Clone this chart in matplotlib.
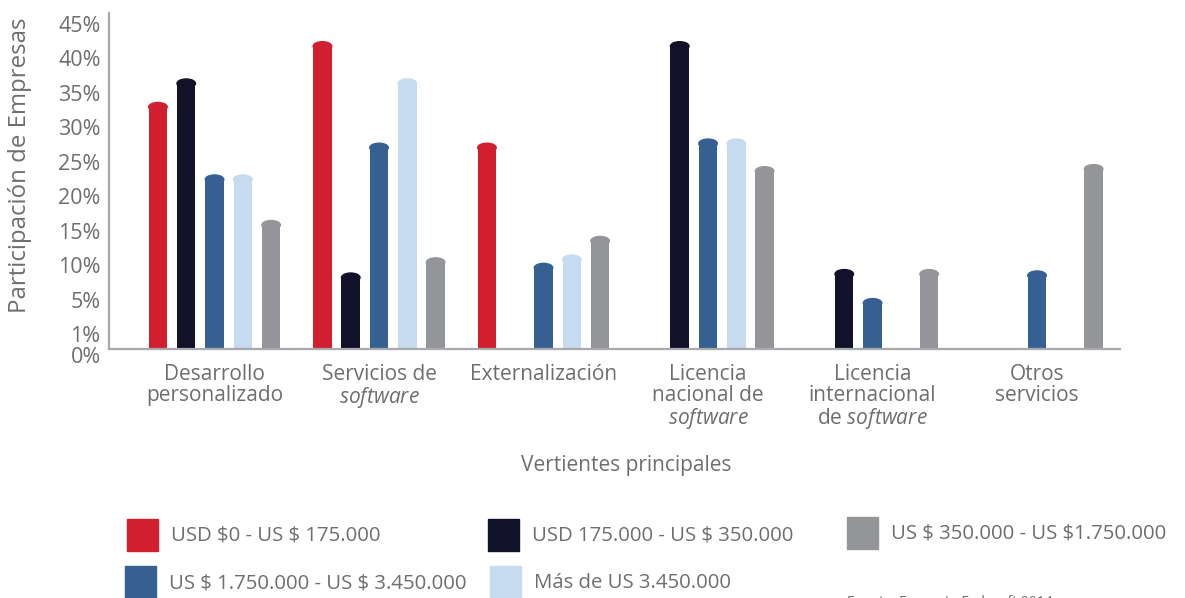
import numpy as np
import matplotlib.pyplot as plt
from matplotlib.patches import Ellipse, Rectangle

plt.rcParams['font.family'] = ['Open Sans', 'DejaVu Sans']
plt.rcParams['mathtext.fontset'] = 'custom'
plt.rcParams['mathtext.rm'] = 'Open Sans'
plt.rcParams['mathtext.it'] = 'Open Sans:italic'

nan = np.nan

categories = ["Desarrollo\npersonalizado",
              "Servicios de\n$\\mathit{software}$",
              "Externalización",
              "Licencia\nnacional de\n$\\mathit{software}$",
              "Licencia\ninternacional\nde $\\mathit{software}$",
              "Otros\nservicios"]

# participación (%) por rango de ventas
usd_0_175 = [33.6, 42.4, 27.7, nan, nan, nan]
usd_175_350 = [37.0, 8.9, nan, 42.4, 9.4, nan]
usd_1750_3450 = [23.1, 27.7, 10.3, 28.3, 5.2, 9.2]
mas_3450 = [23.1, 37.0, 11.5, 28.3, nan, nan]
usd_350_1750 = [16.5, 11.1, 14.2, 24.3, 9.4, 24.6]

labels = [r"USD \$0 - US \$ 175.000",
          r"USD 175.000 - US \$ 350.000",
          r"US \$ 1.750.000 - US \$ 3.450.000",
          r"Más de US 3.450.000",
          r"US \$ 350.000 - US \$1.750.000"]

yticks = [0, 5, 10, 15, 20, 25, 30, 35, 40, 45]
ytick_labels = ["1%", "5%", "10%", "15%", "20%", "25%", "30%", "35%", "40%", "45%"]

colors = ["#d11f2f", "#11112a", "#376092", "#c6dbf0", "#939598"]
txt = "#6d6e71"
axis_col = "#a7a9ac"

series = [usd_0_175, usd_175_350, usd_1750_3450, mas_3450, usd_350_1750]

fig = plt.figure(figsize=(11.85, 5.98), dpi=100)
ax = fig.add_axes([0.0922, 0.4164, 0.8529, 0.5624])

y0 = -2.1
ax.set_xlim(-0.640, 5.504)
ax.set_ylim(y0, 46.6)

x = np.arange(len(categories))
step = 0.172
w = 0.1125
cap = 1.3
for k, (vals, c) in enumerate(zip(series, colors)):
    xs = x + (k - 2) * step
    for xi, v in zip(xs, vals):
        if np.isnan(v):
            continue
        ax.bar(xi, v - cap / 2 - y0, bottom=y0, width=w, color=c, zorder=2)
        ax.add_patch(Ellipse((xi, v - cap / 2), w, cap, color=c, zorder=2))

for s in ["top", "right"]:
    ax.spines[s].set_visible(False)
for s in ["left", "bottom"]:
    ax.spines[s].set_color(axis_col)
    ax.spines[s].set_linewidth(1.6)
    ax.spines[s].set_zorder(3)

ax.set_yticks(yticks, ytick_labels)
ax.set_xticks(x, categories)
ax.tick_params(axis="y", length=0, pad=6.2, labelsize=15.5, labelcolor=txt)
ax.tick_params(axis="x", length=0, pad=11, labelsize=15, labelcolor=txt)
for t in ax.get_xticklabels():
    t.set_linespacing(1.0)
ax.annotate("0%", xy=(0, -3.4), xycoords=("axes fraction", "data"),
            xytext=(-6.2, 0), textcoords="offset points", ha="right",
            va="center", fontsize=15.5, color=txt, annotation_clip=False)

ax.set_ylabel("Participación de Empresas", fontsize=17.3, color=txt)
ax.yaxis.set_label_coords(-0.0765, 0.545)

fig.text(626 / 1185, 1 - 466 / 598, "Vertientes principales", ha="center",
         va="center", fontsize=15, color=txt)

# leyenda en dos filas
legend_pos = [(127, 535), (488, 535), (125, 582), (490, 582), (847, 533)]
for (px, py), c, lab in zip(legend_pos, colors, labels):
    fig.patches.append(Rectangle((px / 1185, 1 - (py + 16) / 598),
                                 31 / 1185, 32 / 598, color=c,
                                 transform=fig.transFigure, figure=fig))
    fig.text((px + 44) / 1185, 1 - (py + 1) / 598, lab, ha="left", va="center",
             fontsize=14.7, color=txt)

fig.text(847 / 1185, 1 - 606 / 598, "Fuente: Encuesta Fedesoft 2014",
         ha="left", va="baseline", fontsize=10, color=txt)

fig.savefig("out.png", dpi=100)
